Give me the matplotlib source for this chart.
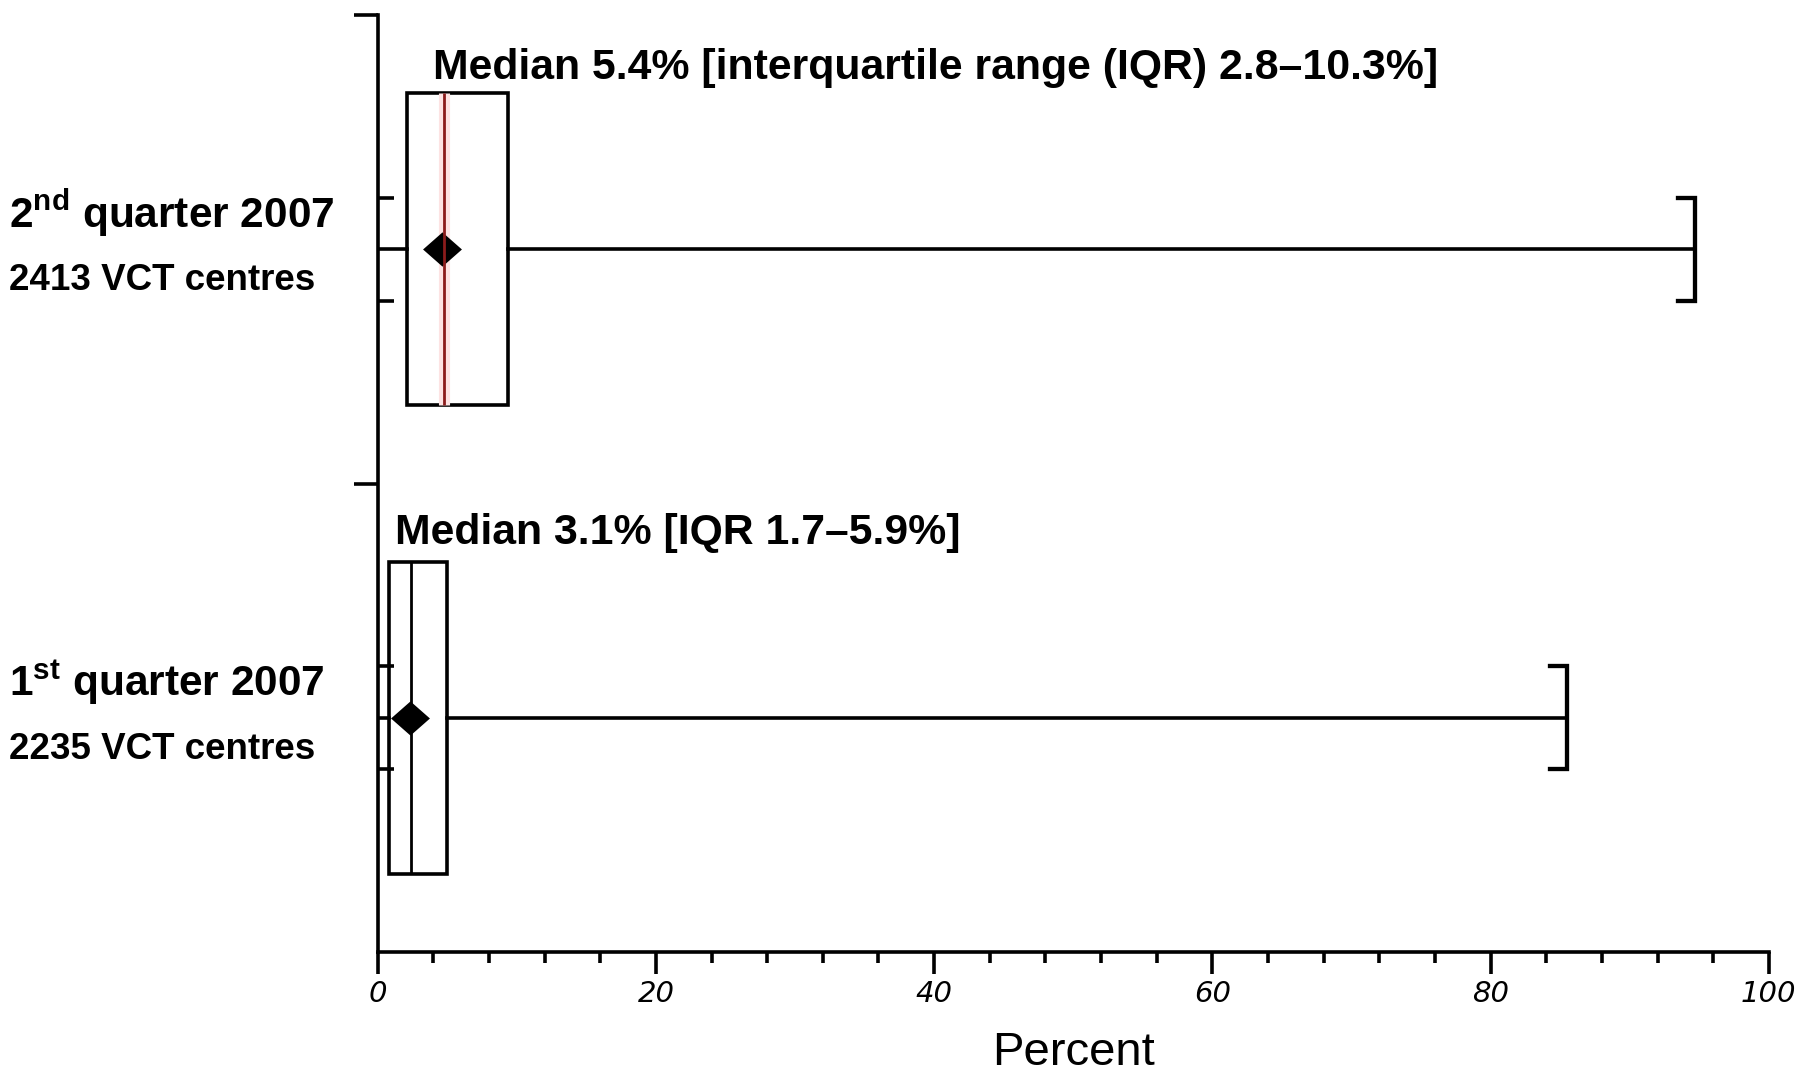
import numpy as np
import matplotlib
matplotlib.use("Agg")
import matplotlib.pyplot as plt
from matplotlib.patches import Rectangle

plt.rcParams['font.family'] = ['Liberation Sans', 'DejaVu Sans']
plt.rcParams['mathtext.fontset'] = 'custom'
plt.rcParams['mathtext.rm'] = 'Liberation Sans'
plt.rcParams['mathtext.bf'] = 'Liberation Sans:bold'

# groups from bottom to top
labels = [r'$\mathbf{1^{st}}$ quarter 2007', r'$\mathbf{2^{nd}}$ quarter 2007']
counts = ['2235 VCT centres', '2413 VCT centres']
titles = ['Median 3.1% [IQR 1.7\u20135.9%]',
          'Median 5.4% [interquartile range (IQR) 2.8\u201310.3%]']
whis_lo = [0.0, 0.0]
q1 = [0.8, 2.1]
median = [2.4, 4.8]
mean = [2.3, 4.6]
q3 = [5.0, 9.35]
whis_hi = [85.5, 94.7]
med_colors = ['black', '#8b1c1c']
xticks = [0, 20, 40, 60, 80, 100]

lw = 2.6
fig = plt.figure(figsize=(17.95, 10.75), dpi=100)
ax = fig.add_axes([0.2104, 0.1144, 0.775, 0.8716])

centers = np.array([0.5, 1.5])
half_box = 0.333
cap = 0.11
stub = 1.2

diamond = [(-1, 0), (0, 0.88), (1, 0), (0, -0.88), (-1, 0)]

for i, c in enumerate(centers):
    ax.add_patch(Rectangle((q1[i], c - half_box), q3[i] - q1[i], 2 * half_box,
                           fill=False, edgecolor='black', linewidth=lw, zorder=3))
    # whiskers
    ax.plot([whis_lo[i], q1[i]], [c, c], color='black', lw=lw, zorder=2)
    ax.plot([q3[i], whis_hi[i]], [c, c], color='black', lw=lw, zorder=2)
    # bracket cap
    ax.plot([whis_hi[i] - stub, whis_hi[i], whis_hi[i], whis_hi[i] - stub],
            [c + cap, c + cap, c - cap, c - cap], color='black', lw=lw + 0.5,
            solid_joinstyle='miter', zorder=2)
    # median
    if med_colors[i] != 'black':
        ax.plot([median[i], median[i]], [c - half_box, c + half_box],
                color='#fde3e3', lw=8, zorder=3, solid_capstyle='butt')
    ax.plot([median[i], median[i]], [c - half_box, c + half_box],
            color=med_colors[i], lw=2.0, zorder=5, solid_capstyle='butt')
    # mean
    ax.plot([mean[i]], [c], marker=diamond, markersize=28, color='black',
            markeredgewidth=0, zorder=4)
    ax.text(-26.5, c + 0.047, labels[i], fontsize=30.5, fontweight='bold',
            ha='left', va='baseline', clip_on=False)
    ax.text(-26.5, c - 0.087, counts[i], fontsize=26.5, fontweight='bold',
            ha='left', va='baseline', clip_on=False)

ax.text(3.98, 1.864, titles[1], fontsize=30.8, fontweight='bold', ha='left', va='baseline')
ax.text(1.25, 0.871, titles[0], fontsize=30.8, fontweight='bold', ha='left', va='baseline')

ax.set_xlim(0, 100)
ax.set_ylim(0, 2)
ax.spines['top'].set_visible(False)
ax.spines['right'].set_visible(False)
ax.spines['left'].set_linewidth(lw)
ax.spines['bottom'].set_linewidth(lw)

ax.set_xticks(xticks)
ax.set_xticks(np.arange(0, 101, 4), minor=True)
ax.set_xticklabels([str(t) for t in xticks], fontsize=21, fontstyle='italic',
                   family=['Liberation Sans Narrow', 'DejaVu Sans'])
ax.tick_params(axis='x', which='major', length=16, width=lw, pad=4)
ax.tick_params(axis='x', which='minor', length=8, width=lw)

ax.set_yticks([1, 2])
ax.set_yticklabels([])
ax.set_yticks(np.concatenate([centers - cap, centers + cap]), minor=True)
ax.tick_params(axis='y', which='major', length=17, width=lw, direction='out')
ax.tick_params(axis='y', which='minor', length=11.5, width=lw, direction='in')

ax.set_xlabel('Percent', fontsize=34, labelpad=17)

fig.savefig('out.png', dpi=100)
